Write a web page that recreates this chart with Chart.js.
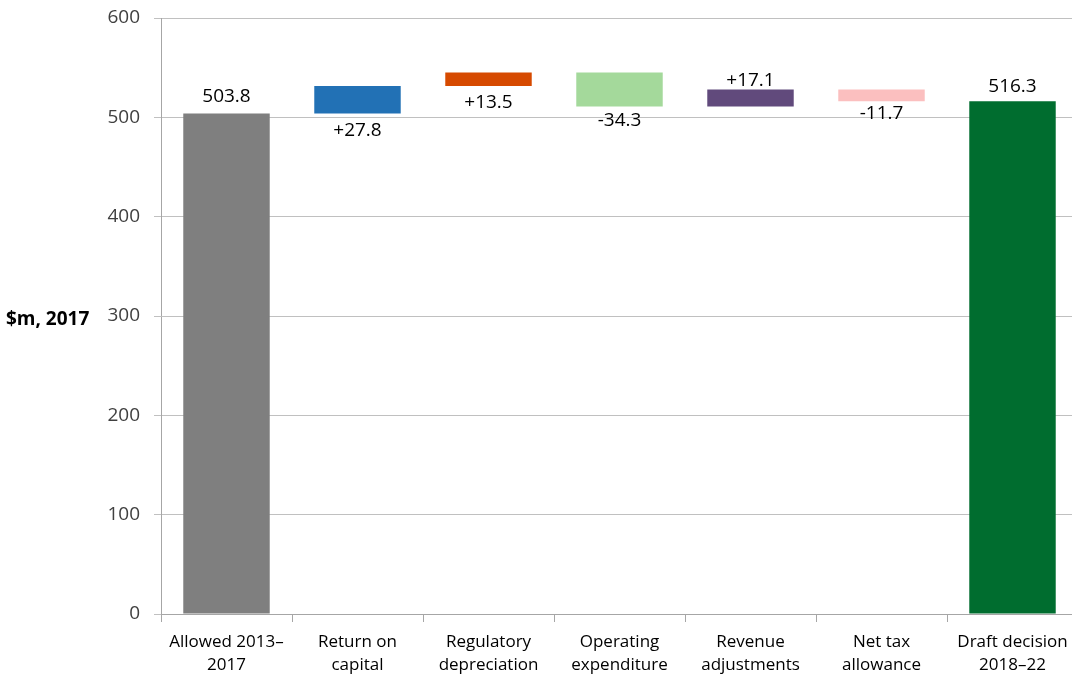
<!DOCTYPE html>
<html>
<head>
<meta charset="utf-8">
<script src="https://cdn.jsdelivr.net/npm/chart.js@4.4.1/dist/chart.umd.min.js"></script>
<style>
  html, body { margin: 0; padding: 0; background: #fff; overflow: hidden; }
  /* plot runs slightly past the right edge of the page */
  #wrap { width: 1078px; height: 675px; position: relative; }
</style>
</head>
<body>
<div id="wrap"><canvas id="waterfall"></canvas></div>
<script>
// revenue building blocks, $m 2017
const categories = [
    ['Allowed 2013\u2013', '2017'],
    ['Return on', 'capital'],
    ['Regulatory', 'depreciation'],
    ['Operating', 'expenditure'],
    ['Revenue', 'adjustments'],
    ['Net tax', 'allowance'],
    ['Draft decision', '2018\u201322']
];
const startTotal = 503.8;
const changes = [27.8, 13.5, -34.3, 17.1, -11.7];
const endTotal = 516.3;
const yTicks = [0, 100, 200, 300, 400, 500, 600];

const barColors = ['#7f7f7f', '#2271b5', '#d64a00', '#a4d99b', '#614a7c', '#fbbfbf', '#006d2f'];
// label offset from the bar edge (negative = above the bar)
const labelOffsets = [-17, 17, 17, 14, -9, 12, -15];

// floating bars: totals start at zero, changes stack from the running total
const bars = [[0, startTotal]];
const labels = [startTotal.toFixed(1)];
let running = startTotal;
changes.forEach(c => {
    bars.push([running, running + c]);
    labels.push((c > 0 ? '+' : '') + c.toFixed(1));
    running += c;
});
bars.push([0, endTotal]);
labels.push(endTotal.toFixed(1));

const FONT = "'Open Sans', 'Noto Sans', sans-serif";

const valueLabels = {
    id: 'valueLabels',
    afterDatasetsDraw(chart) {
        const ctx = chart.ctx;
        const meta = chart.getDatasetMeta(0);
        ctx.save();
        ctx.font = '19px ' + FONT;
        ctx.fillStyle = '#000';
        ctx.textAlign = 'center';
        ctx.textBaseline = 'middle';
        meta.data.forEach((bar, i) => {
            const p = bar.getProps(['x', 'y', 'base'], true);
            const top = Math.min(p.y, p.base);
            const bottom = Math.max(p.y, p.base);
            const off = labelOffsets[i];
            const y = off < 0 ? top + off : bottom + off;
            ctx.fillText(labels[i], p.x, y);
        });
        ctx.restore();
    }
};

// flat axis title to the left of the tick labels
const yTitle = {
    id: 'yTitle',
    afterDraw(chart) {
        const ctx = chart.ctx;
        const area = chart.chartArea;
        ctx.save();
        ctx.font = 'bold 19px ' + FONT;
        ctx.fillStyle = '#000';
        ctx.textAlign = 'left';
        ctx.textBaseline = 'middle';
        ctx.fillText('$m, 2017', 6, (area.top + area.bottom) / 2 + 4);
        ctx.restore();
    }
};

new Chart(document.getElementById('waterfall').getContext('2d'), {
    type: 'bar',
    data: {
        labels: categories,
        datasets: [{
            data: bars,
            backgroundColor: barColors,
            borderWidth: 0,
            categoryPercentage: 1,
            barPercentage: 0.66
        }]
    },
    options: {
        responsive: true,
        maintainAspectRatio: false,
        animation: false,
        layout: { padding: { top: 18, right: 0, left: 0, bottom: 0 } },
        plugins: {
            legend: { display: false },
            tooltip: { enabled: false }
        },
        scales: {
            x: {
                afterFit: s => { s.height = 61; },
                grid: {
                    offset: true,
                    drawOnChartArea: false,
                    tickLength: 8,
                    color: '#a6a6a6'
                },
                border: { color: '#a6a6a6' },
                ticks: {
                    font: { family: FONT, size: 17, lineHeight: 1.35 },
                    color: '#000',
                    padding: 9,
                    maxRotation: 0,
                    autoSkip: false
                }
            },
            y: {
                min: 0,
                max: 600,
                afterFit: s => { s.width = 161; s.paddingTop = 0; s.paddingBottom = 0; },
                afterBuildTicks: s => { s.ticks = yTicks.map(v => ({ value: v })); },
                grid: { color: '#c0c0c0', tickLength: 7 },
                border: { color: '#a6a6a6' },
                ticks: {
                    font: { family: FONT, size: 19 },
                    color: '#404040',
                    padding: 14
                }
            }
        }
    },
    plugins: [valueLabels, yTitle]
});
</script>
</body>
</html>
